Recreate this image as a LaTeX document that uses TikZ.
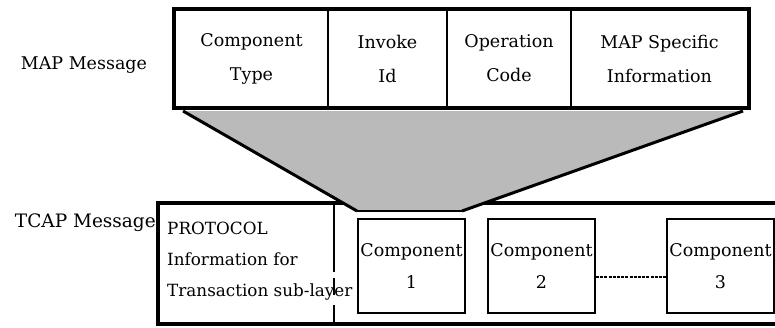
\documentclass[tikz,border=0pt]{standalone}
\usepackage{fontspec}
\setmainfont{DejaVu Serif}
\usetikzlibrary{calc}
\begin{document}
\begin{tikzpicture}[x=1pt,y=-1pt,
  txt/.style={font=\fontsize{17.5}{34}\selectfont, inner sep=0pt},
  cell/.style={txt, draw, line width=1.6pt, minimum height=97pt, align=center},
  comp/.style={draw, line width=2pt, minimum width=107pt, minimum height=94pt, inner sep=0pt, align=center, font=\fontsize{17.5}{32}\selectfont},
  thickline/.style={line width=4pt},
  slant/.style={line width=3pt, line join=round},
  shade/.style={fill=black!27}
]
\clip (0,0) rectangle (775,327);
\fill[white] (0,0) rectangle (775,327);

% MAP message box
\node[cell, minimum width=153pt] (ct) at (251.5,58.5) {Component\\Type};
\node[cell, minimum width=119pt] (ii) at (387.5,58.5) {Invoke\\Id};
\node[cell, minimum width=124pt] (oc) at (509,58.5) {Operation\\Code};
\node[cell, minimum width=177pt] (ms) at (659.5,58.5) {MAP Specific\\Information};
\draw[thickline] (ct.north west) rectangle (ms.south east);
\node[txt] (maplbl) at (84,65) {MAP Message};

% TCAP message box
\node[draw, thickline, minimum width=650pt, minimum height=121pt, inner sep=0pt, anchor=north west] (tcap) at (156,201) {};
\node[txt, anchor=east, font=\fontsize{18.5}{34}\selectfont] (tcaplbl) at (156,223) {TCAP Message};

% expansion trapezoid
\coordinate (t1) at (183,111);
\coordinate (t2) at (743,111);
\coordinate (t3) at (462,211);
\coordinate (t4) at (357,211);
\fill[shade] (t1) -- (t2) -- (t3) -- (t4) -- cycle;
\draw[slant] (t1) -- (t4);
\draw[slant] (t2) -- (t3);
\draw[line width=2pt] (t4) -- (t3);

% protocol part
\coordinate (dv1) at (334,201);
\coordinate (dv2) at (334,323);
\draw[line width=2.5pt, dash pattern=on 71pt off 6pt on 17pt off 10pt on 30pt] (dv1) -- (dv2);
\node[txt, anchor=north west, align=left, font=\fontsize{16.8}{31}\selectfont] (proto) at (167,221.5) {PROTOCOL\\Information for\\Transaction sub-layer};

% components
\node[comp] (c1) at (411.5,266) {Component\\1};
\node[comp] (c2) at (541.5,266) {Component\\2};
\node[comp] (c3) at (720.5,266) {Component\\3};
\draw[line width=1.5pt, dash pattern=on 3pt off 1.2pt] ([yshift=-11pt]c2.east) -- ([yshift=-11pt]c3.west);
\end{tikzpicture}
\end{document}
